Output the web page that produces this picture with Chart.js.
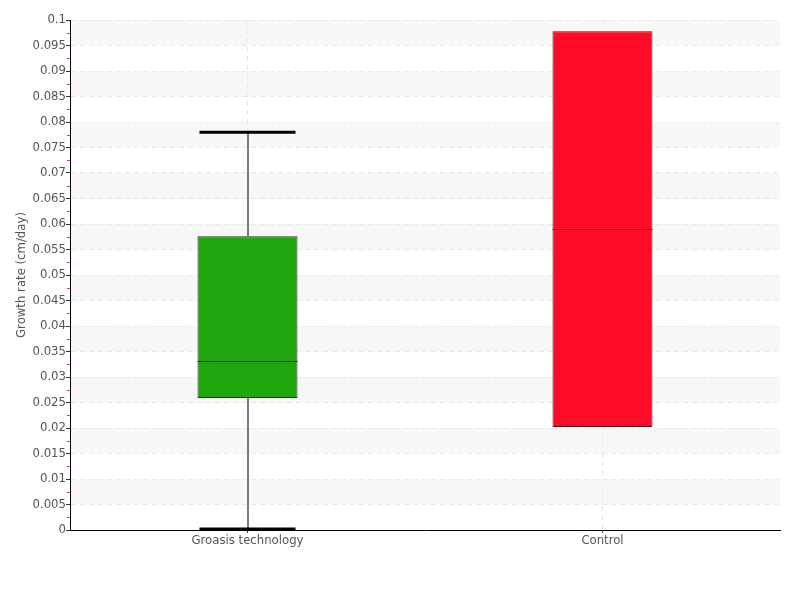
<!DOCTYPE html>
<html>
<head>
<meta charset="utf-8">
<script src="https://cdn.jsdelivr.net/npm/chart.js@4/dist/chart.umd.min.js"></script>
<style>
  html, body { margin: 0; padding: 0; background: #fff; }
  #wrap { width: 800px; height: 600px; }
</style>
</head>
<body>
<div id="wrap"><canvas id="mycanvas"></canvas></div>
<script>
// box plot data
var categories = ['Groasis technology', 'Control'];
var whiskerMin = [0.0002, 0.0202];
var q1 = [0.0259, 0.0202];
var median = [0.0331, 0.059];
var q3 = [0.0576, 0.0978];
var whiskerMax = [0.078, 0.0978];

var boxColors = ['#22a60f', '#ff0a27'];
var boxBorders = ['#163f0d', '#4a1418'];
var medianColors = ['#173a0c', '#8a0c1c'];

var fontFamily = "'DejaVu Sans Condensed', 'Liberation Sans Narrow', sans-serif";

var boxes = [];
for (var i = 0; i < categories.length; i++) {
    boxes.push([q1[i], q3[i]]);
}

// alternate grey bands + red minor ticks on the y axis
var bandsPlugin = {
    id: 'bands',
    beforeDatasetsDraw: function (chart) {
        var ctx = chart.ctx, y = chart.scales.y, area = chart.chartArea;
        ctx.save();
        ctx.fillStyle = 'rgba(240,240,240,0.5)';
        var step = 0.005;
        for (var k = 1; k < 20; k += 2) {
            var top = y.getPixelForValue((k + 1) * step);
            var bot = y.getPixelForValue(k * step);
            ctx.fillRect(area.left + 1, top, area.right - area.left - 1, bot - top);
        }
        ctx.restore();
    },
    afterDraw: function (chart) {
        var ctx = chart.ctx, y = chart.scales.y, area = chart.chartArea;
        ctx.save();
        ctx.strokeStyle = '#ff3535';
        ctx.lineWidth = 1;
        for (var k = 0; k < 20; k++) {
            var py = Math.round(y.getPixelForValue((k + 0.5) * 0.005)) + 0.5;
            ctx.beginPath();
            ctx.moveTo(area.left - 3, py);
            ctx.lineTo(area.left, py);
            ctx.stroke();
        }
        ctx.restore();
    }
};

// whiskers, caps and medians
var boxPlugin = {
    id: 'boxparts',
    beforeDatasetsDraw: function (chart) {
        var ctx = chart.ctx, y = chart.scales.y;
        var bars = chart.getDatasetMeta(0).data;
        ctx.save();
        for (var i = 0; i < bars.length; i++) {
            var x = Math.round(bars[i].x);
            ctx.strokeStyle = '#7a7a7a';
            ctx.lineWidth = 2;
            ctx.beginPath();
            ctx.moveTo(x, y.getPixelForValue(q3[i]));
            ctx.lineTo(x, y.getPixelForValue(whiskerMax[i]));
            ctx.moveTo(x, y.getPixelForValue(q1[i]));
            ctx.lineTo(x, y.getPixelForValue(whiskerMin[i]));
            ctx.stroke();
        }
        ctx.restore();
    },
    afterDatasetsDraw: function (chart) {
        var ctx = chart.ctx, y = chart.scales.y;
        var bars = chart.getDatasetMeta(0).data;
        ctx.save();
        for (var i = 0; i < bars.length; i++) {
            var x = bars[i].x, half = bars[i].width / 2;
            if (whiskerMax[i] > q3[i]) {
                ctx.strokeStyle = '#000';
                ctx.lineWidth = 3;
                ctx.beginPath();
                ctx.moveTo(x - half + 2, y.getPixelForValue(whiskerMax[i]));
                ctx.lineTo(x + half - 2, y.getPixelForValue(whiskerMax[i]));
                ctx.stroke();
            }
            if (whiskerMin[i] < q1[i]) {
                ctx.strokeStyle = '#000';
                ctx.lineWidth = 3;
                ctx.beginPath();
                ctx.moveTo(x - half + 2, y.getPixelForValue(whiskerMin[i]));
                ctx.lineTo(x + half - 2, y.getPixelForValue(whiskerMin[i]));
                ctx.stroke();
            }
            var my = Math.round(y.getPixelForValue(median[i])) + 0.5;
            ctx.strokeStyle = medianColors[i];
            ctx.lineWidth = 1;
            ctx.beginPath();
            ctx.moveTo(x - half, my);
            ctx.lineTo(x + half, my);
            ctx.stroke();
        }
        ctx.restore();
    }
};

var ctx = document.getElementById('mycanvas');

var boxChart = new Chart(ctx, {
    type: 'bar',
    data: {
        labels: categories,
        datasets: [{
            label: 'Growth rate',
            data: boxes,
            backgroundColor: boxColors,
            borderColor: boxBorders,
            borderWidth: 1,
            borderSkipped: false,
            barPercentage: 1,
            categoryPercentage: 100 / 355
        }]
    },
    options: {
        responsive: true,
        maintainAspectRatio: false,
        animation: false,
        layout: { padding: { top: 20, right: 20, left: 0, bottom: 0 } },
        plugins: {
            legend: { display: false },
            tooltip: { enabled: false }
        },
        scales: {
            x: {
                afterFit: function (scale) { scale.height = 70; },
                grid: {
                    offset: false,
                    color: '#e4e4e4',
                    tickColor: '#555',
                    tickBorderDash: [],
                    tickLength: 3
                },
                border: { display: true, color: '#000', width: 1, dash: [5, 4] },
                ticks: {
                    padding: 0,
                    color: '#555',
                    font: { family: fontFamily, size: 13 }
                }
            },
            y: {
                min: 0,
                max: 0.1,
                afterFit: function (scale) { scale.width = 70; },
                grid: {
                    color: '#e4e4e4',
                    tickColor: '#333',
                    tickBorderDash: [],
                    tickLength: 4
                },
                border: { display: true, color: '#000', width: 1, dash: [5, 4] },
                ticks: {
                    stepSize: 0.005,
                    padding: 0,
                    color: '#555',
                    font: { family: fontFamily, size: 13 },
                    callback: function (v) { return String(parseFloat(v.toFixed(3))); }
                },
                title: {
                    display: true,
                    text: 'Growth rate (cm/day)',
                    color: '#555',
                    padding: { top: 14, bottom: 0 },
                    font: { family: fontFamily, size: 13 }
                }
            }
        }
    },
    plugins: [bandsPlugin, boxPlugin]
});
</script>
</body>
</html>
